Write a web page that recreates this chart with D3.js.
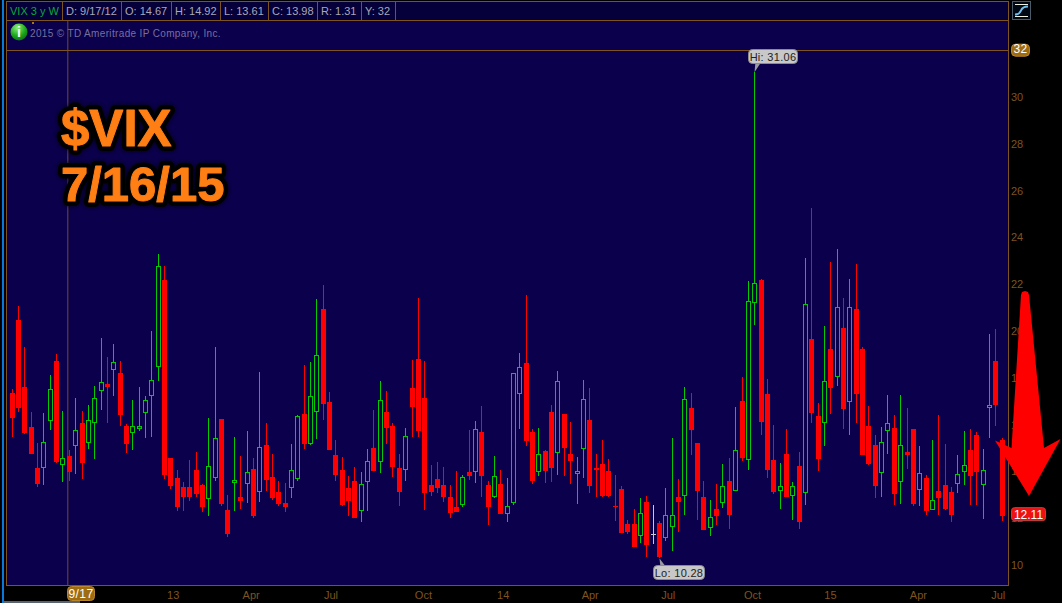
<!DOCTYPE html>
<html>
<head>
  <meta charset="utf-8"><script src="https://d3js.org/d3.v7.min.js"></script>
  <style>
    html, body { margin: 0; padding: 0; background: black; overflow: hidden; }
    svg { display: block; }
    text { font-family: "Liberation Sans", Arial, sans-serif; }
  </style>
</head>

<body>
  <svg id="mychart" width="1062" height="603" />
<script>
  // VIX weekly candles, first week 7/16/12, last week 7/13/15
  const firstWeek = "2012-07-16"
  const lastWeek = "2015-07-13"

  const opens = [
    17.35,20.47,17.61,15.90,14.15,14.16,16.17,18.72,14.29,14.67,
    15.10,16.07,15.23,16.08,17.45,17.73,18.35,18.20,15.94,15.66,
    15.83,16.51,17.24,18.48,22.18,14.57,13.72,13.33,13.33,14.06,
    13.42,12.84,13.73,16.24,12.35,13.52,12.91,13.48,14.10,13.13,
    15.13,13.76,13.12,12.65,13.30,13.69,16.45,15.19,16.55,20.94,
    16.97,14.70,14.06,13.29,13.59,12.32,13.56,15.00,14.42,16.54,
    15.94,14.15,14.07,17.56,18.80,17.14,13.42,13.68,13.42,12.91,
    12.48,12.58,13.97,13.99,15.68,13.42,12.92,13.46,12.19,12.66,
    17.32,18.62,15.68,13.99,14.87,16.54,14.80,16.45,14.74,13.90,
    14.97,16.20,14.15,14.32,14.02,12.52,13.25,11.75,11.75,11.25,
    12.69,11.31,11.80,11.17,11.64,12.91,12.96,16.71,15.21,12.91,
    11.60,12.39,12.66,13.59,13.18,17.01,14.50,21.18,22.18,17.31,
    14.49,13.16,14.74,12.96,14.23,13.09,19.64,16.37,16.08,19.23,
    18.05,20.13,16.98,20.94,19.23,15.94,15.13,13.95,15.74,15.85,
    13.56,14.83,15.81,13.22,13.72,12.36,13.16,13.42,13.12,13.48,
    13.96,14.91,15.56,13.43,16.72,18.72,15.34]

  const highs = [
    17.52,21.07,19.30,16.54,15.21,16.50,18.12,19.00,16.58,14.92,
    17.14,16.58,16.84,17.65,19.70,18.89,19.44,18.72,16.03,17.05,
    17.61,17.22,20.00,23.29,22.78,14.57,14.06,13.55,14.49,14.83,
    13.46,16.28,19.32,16.24,12.99,15.47,14.66,15.73,14.57,18.25,
    16.07,14.74,13.59,13.50,15.17,16.41,18.55,18.68,21.37,21.97,
    17.39,15.34,14.62,13.80,14.19,13.97,14.96,16.62,17.86,17.44,
    16.07,14.74,15.86,18.76,21.41,18.72,14.27,14.40,14.19,13.42,
    14.02,13.85,15.77,16.15,16.80,13.59,14.66,14.06,13.72,18.20,
    19.06,21.54,15.80,15.86,14.90,16.84,18.29,16.47,16.11,14.62,
    17.91,17.56,14.74,15.34,14.53,13.85,13.38,11.92,12.39,12.86,
    12.95,12.56,11.88,13.29,15.43,13.68,17.61,17.35,15.23,13.59,
    12.78,13.46,14.32,14.57,16.75,18.03,22.14,31.06,22.21,17.95,
    15.98,14.36,15.81,13.55,14.83,23.11,25.26,16.92,20.21,22.95,
    23.50,21.41,22.22,22.86,19.32,16.79,15.56,15.90,17.26,16.41,
    17.26,16.71,15.83,15.09,13.85,15.34,16.41,15.17,13.33,14.70,
    15.73,15.81,15.68,14.96,19.87,20.09,15.43]

  const lows = [
    15.48,16.55,15.60,14.74,13.35,13.42,15.77,14.36,13.56,13.61,
    13.89,13.68,14.96,14.53,16.62,16.08,17.22,15.95,14.79,14.91,
    15.73,15.43,15.47,17.86,13.68,13.25,12.31,12.31,12.74,12.91,
    12.27,12.09,13.59,12.52,11.20,12.31,12.39,12.65,12.01,12.69,
    13.16,12.78,12.52,12.27,12.86,13.59,14.96,15.13,15.38,16.20,
    14.90,13.59,12.54,12.09,11.99,11.84,12.31,14.00,13.93,15.17,
    13.76,12.52,13.59,15.47,15.47,12.35,12.95,13.08,12.69,12.01,
    12.25,12.48,13.63,13.50,12.91,11.71,12.86,12.16,11.84,12.56,
    15.81,15.09,13.46,13.80,13.50,13.55,13.85,13.80,13.46,12.61,
    13.72,13.08,12.91,12.91,12.91,11.88,11.35,11.33,10.75,10.94,
    10.34,10.90,10.28,11.03,10.60,11.41,12.14,14.70,11.92,11.48,
    11.24,11.71,12.44,11.54,13.16,14.44,14.06,20.26,15.56,13.72,
    13.03,12.39,12.89,11.92,11.54,12.56,16.07,14.02,15.09,16.45,
    17.65,15.81,15.56,16.07,14.68,14.27,12.86,12.91,14.74,12.56,
    12.61,14.10,12.52,12.52,12.14,12.35,12.14,12.35,11.84,13.08,
    13.42,12.56,12.56,11.97,15.43,15.94,11.88]

  const closes = [
    16.30,16.72,15.66,14.76,13.48,15.24,17.51,14.42,14.56,13.98,
    15.76,14.36,16.18,17.12,17.83,17.61,18.66,16.41,15.17,15.93,
    15.93,17.04,17.89,22.76,13.85,13.38,12.48,12.91,12.91,13.03,
    12.48,14.22,15.41,12.61,11.34,13.62,12.74,13.96,12.09,15.03,
    13.63,12.86,12.61,12.48,14.05,16.35,15.17,17.21,18.96,16.88,
    14.92,13.85,12.56,12.74,12.01,13.45,14.43,14.02,17.04,15.86,
    14.19,13.12,15.50,16.75,15.73,13.08,13.12,13.29,12.91,12.22,
    12.27,13.75,13.80,15.80,13.80,12.48,13.79,12.18,12.51,18.19,
    18.45,15.30,13.59,14.73,14.02,14.15,17.85,15.00,14.44,14.00,
    17.08,13.38,14.07,12.95,12.95,12.48,11.37,11.41,10.77,12.21,
    10.86,11.31,10.34,12.12,12.12,12.69,17.08,15.77,13.16,11.50,
    12.04,12.09,13.36,12.14,14.90,14.57,21.27,22.04,16.12,14.06,
    13.12,13.36,12.91,13.36,11.84,21.14,16.50,14.53,17.85,17.56,
    21.01,16.67,21.01,17.31,14.70,14.32,13.38,15.24,16.05,13.03,
    15.11,14.70,12.61,13.92,12.31,12.76,12.86,12.39,12.14,13.87,
    14.26,13.80,13.97,14.05,16.84,16.84,12.11]

  const tickDates = ["2013-01-09","2013-04-05","2013-07-02","2013-10-12","2014-01-08","2014-04-14",
                     "2014-07-09","2014-10-10","2015-01-04","2015-04-11","2015-07-08"]
  const tickLabels = ["13","Apr","Jul","Oct","14","Apr","Jul","Oct","15","Apr","Jul"]
  const priceTicks = [10,12,14,16,18,20,22,24,26,28,30]

  const headerCells = ["VIX 3 y W","D: 9/17/12","O: 14.67","H: 14.92","L: 13.61","C: 13.98","R: 1.31","Y: 32"]
  const headerEdges = [6,62,121,171,220,268,317,361,395]

  const crossDate = "2012-09-17"
  const crossLabel = "9/17"
  const crossPrice = 32

  const weeks = d3.utcMonday.range(new Date(firstWeek), d3.utcDay.offset(new Date(lastWeek), 1))
  const data = weeks.map((date, i) => ({date, open: opens[i], high: highs[i], low: lows[i], close: closes[i]}))

  const width = 1062, height = 603
  const plot = {left: 6, right: 1008, top: 20, bottom: 585}

  const x = d3.scaleUtc().domain([new Date(firstWeek), new Date(lastWeek)]).range([12.2, 1002.2])
  const y = d3.scaleLinear().domain([10, 30]).range([565, 97])

  const brown = "#7d5320", red = "#ff0000", green = "#00cc00", grey = "#c8c8d0"
  const candleColor = d => d.close > d.open ? green : d.close < d.open ? red : grey
  const px = d => Math.floor(x(d.date))

  const svg = d3.select("#mychart")

  // frame
  svg.append("rect").attr("width", width).attr("height", height).attr("fill", "black")
  svg.append("rect").attr("x", 2).attr("y", 0).attr("width", 2).attr("height", height).attr("fill", "#0a78d8")
  svg.append("rect").attr("x", 4).attr("y", 601).attr("width", 76).attr("height", 2).attr("fill", "#5a6470")
  svg.append("rect").attr("x", plot.left).attr("y", plot.top)
    .attr("width", plot.right - plot.left).attr("height", plot.bottom - plot.top)
    .attr("fill", "#0b004c")
  svg.append("rect").attr("x", plot.left).attr("y", 1)
    .attr("width", plot.right - plot.left).attr("height", plot.top - 1)
    .attr("fill", "#05003a")

  // crosshair
  svg.append("line").attr("x1", x(new Date(crossDate)) - 1.5).attr("x2", x(new Date(crossDate)) - 1.5)
    .attr("y1", plot.top).attr("y2", plot.bottom).attr("stroke", "#6f4c30")
  svg.append("line").attr("x1", plot.left).attr("x2", plot.right)
    .attr("y1", Math.floor(y(crossPrice)) + .5).attr("y2", Math.floor(y(crossPrice)) + .5).attr("stroke", brown)

  // header
  svg.append("g").attr("stroke", brown).selectAll("line").data(headerEdges).join("line")
    .attr("x1", d => d + .5).attr("x2", d => d + .5).attr("y1", 1).attr("y2", 20)
  svg.append("path").attr("d", `M6.5,1.5H${plot.right + .5}M6.5,20.5H${plot.right + .5}M6.5,20V${plot.bottom}M${plot.right + .5},1V${plot.bottom}M6,${plot.bottom + .5}H${plot.right + 1}`)
    .attr("stroke", brown).attr("fill", "none")
  svg.append("g").selectAll("text").data(headerCells).join("text")
    .attr("x", (d, i) => headerEdges[i] + 4).attr("y", 15)
    .attr("font-size", 11)
    .attr("fill", (d, i) => i == 0 ? "#0aa83a" : "#a8a8b8")
    .text(d => d)

  // info icon and copyright
  const grad = svg.append("defs").append("radialGradient").attr("id", "infoGrad").attr("cx", "40%").attr("cy", "25%").attr("r", "80%")
  grad.append("stop").attr("offset", "0%").attr("stop-color", "#8cf07a")
  grad.append("stop").attr("offset", "60%").attr("stop-color", "#1ca81c")
  grad.append("stop").attr("offset", "100%").attr("stop-color", "#0b6d18")
  svg.append("circle").attr("cx", 19).attr("cy", 32).attr("r", 8.5).attr("fill", "url(#infoGrad)")
  svg.append("text").attr("x", 19).attr("y", 37).attr("text-anchor", "middle")
    .attr("font-size", 14).attr("font-weight", "bold").attr("fill", "white").text("i")
  svg.append("rect").attr("x", 32).attr("y", 22).attr("width", 2).attr("height", 2).attr("fill", "#a8761a")
  svg.append("text").attr("x", 30).attr("y", 37).attr("font-size", 10).attr("letter-spacing", .35)
    .attr("fill", "#74709e").text("2015 © TD Ameritrade IP Company, Inc.")

  // axes
  const xAxis = d3.axisBottom(x).tickValues(tickDates.map(d => new Date(d)))
    .tickFormat((d, i) => tickLabels[i]).tickSize(0).tickPadding(6)
  const yAxis = d3.axisRight(y).tickValues(priceTicks).tickSize(0).tickPadding(3)

  svg.append("g").attr("transform", `translate(0,${plot.bottom})`).call(xAxis)
    .call(g => g.select(".domain").remove())
    .call(g => g.selectAll("text").attr("fill", brown).attr("font-size", 11).attr("font-family", null))
  svg.append("g").attr("transform", `translate(${plot.right},0)`).call(yAxis)
    .call(g => g.select(".domain").remove())
    .call(g => g.selectAll("text").attr("fill", brown).attr("font-size", 11).attr("font-family", null))

  // candles
  const candles = svg.append("g").selectAll("g").data(data).join("g")
  candles.append("line")
    .attr("x1", d => px(d) + .5).attr("x2", d => px(d) + .5)
    .attr("y1", d => Math.round(y(d.high))).attr("y2", d => Math.round(y(d.low)))
    .attr("stroke", candleColor)
  // up weeks are hollow, down weeks are filled
  candles.filter(d => d.close > d.open).append("rect")
    .attr("x", d => px(d) - 1.5).attr("width", 4)
    .attr("y", d => Math.round(y(d.close)) + .5)
    .attr("height", d => Math.max(1, Math.round(y(d.open)) - Math.round(y(d.close)) - 1))
    .attr("fill", "#0b004c").attr("stroke", green)
  candles.filter(d => d.close < d.open).append("rect")
    .attr("x", d => px(d) - 2).attr("width", 5)
    .attr("y", d => Math.round(y(d.open)))
    .attr("height", d => Math.max(1, Math.round(y(d.close)) - Math.round(y(d.open))))
    .attr("fill", red)
  candles.filter(d => d.close == d.open).append("line")
    .attr("x1", d => px(d) - 2).attr("x2", d => px(d) + 3)
    .attr("y1", d => Math.round(y(d.open)) + .5).attr("y2", d => Math.round(y(d.open)) + .5)
    .attr("stroke", grey)

  // high and low callouts
  const hi = data[d3.maxIndex(data, d => d.high)]
  const lo = data[d3.minIndex(data, d => d.low)]
  function callout(text, d, value, bx, by, bw) {
    const tx = px(d) + .5, ty = y(value)
    const above = by < ty
    svg.append("path").attr("fill", "#9a9aa2")
      .attr("d", `M${tx},${ty}L${tx + 1},${above ? by + 12 : by + 2}L${tx + 7},${above ? by + 12 : by + 2}Z`)
    svg.append("rect").attr("x", bx).attr("y", by).attr("width", bw).attr("height", 14).attr("rx", 4)
      .attr("fill", "#c8c8c8").attr("stroke", "#8a8a90")
    svg.append("text").attr("x", bx + bw / 2).attr("y", by + 11).attr("text-anchor", "middle")
      .attr("font-size", 11).attr("fill", "#222").attr("letter-spacing", .3).text(text)
  }
  callout("Hi: " + hi.high.toFixed(2), hi, hi.high, 748.5, 49.5, 49)
  callout("Lo: " + lo.low.toFixed(2), lo, lo.low, 653.5, 565.5, 51)

  // badges on the axes
  function badge(text, bx, by, bw, bh, fill, stroke) {
    svg.append("rect").attr("x", bx).attr("y", by).attr("width", bw).attr("height", bh).attr("rx", 4)
      .attr("fill", fill).attr("stroke", stroke)
    svg.append("text").attr("x", bx + bw / 2).attr("y", by + bh - 3).attr("text-anchor", "middle")
      .attr("font-size", 12).attr("fill", "white").attr("letter-spacing", .4).text(text)
  }
  badge(crossLabel, 67.5, 586.5, 27, 14, "#a06c12", "#b8862e")
  badge(crossPrice, 1011.5, y(crossPrice) - 6, 18, 12, "#a06c12", "#b8862e")

  // scale button
  svg.append("rect").attr("x", 1012.5).attr("y", 1.5).attr("width", 18).attr("height", 18)
    .attr("fill", "#000814").attr("stroke", "#4a5a68")
  svg.append("path").attr("d", "M1015,4.5H1028M1015,16.5H1028").attr("stroke", "#f0f0e0").attr("fill", "none")
  svg.append("path").attr("d", "M1015,14.5C1019,14.5 1020,13 1021,10.5C1022,8 1024,6.5 1028,6.5")
    .attr("stroke", "#6cc0f0").attr("stroke-width", 2).attr("fill", "none")

  // title text, black outline first and then a slightly fattened orange on top
  const titleLines = [["$VIX", 61, 146, 51], ["7/16/15", 61, 201, 49]]
  const outline = svg.append("g").attr("font-weight", "bold").attr("fill", "black")
    .attr("stroke", "black").attr("stroke-width", 10).attr("stroke-linejoin", "round")
    .style("filter", "drop-shadow(0 0 2px rgba(0,0,0,.8))")
  const face = svg.append("g").attr("font-weight", "bold").attr("fill", "#ff7f14")
    .attr("stroke", "#ff7f14").attr("stroke-width", 1).attr("stroke-linejoin", "round")
  for (const g of [outline, face]) {
    g.selectAll("text").data(titleLines).join("text")
      .attr("x", d => d[1]).attr("y", d => d[2]).attr("font-size", d => d[3]).text(d => d[0])
  }

  // hand drawn red arrow over the last candles
  const arrow = [[1021,295],[1022,292],[1025,291],[1028,292],[1029,295],[1044,448],[1060.5,439],[1029,496],[995,440.5],[1011.5,448]]
  svg.append("path").attr("d", d3.line()(arrow) + "Z").attr("fill", red)

  // last close badge sits over the arrow layer
  const last = data[data.length - 1]
  svg.append("rect").attr("x", 1011.5).attr("y", y(last.close) - 8).attr("width", 34).attr("height", 13).attr("rx", 3)
    .attr("fill", "#ee1111").attr("stroke", "#c04040")
  svg.append("text").attr("x", 1028.5).attr("y", y(last.close) + 3).attr("text-anchor", "middle")
    .attr("font-size", 12).attr("fill", "white").text(last.close.toFixed(2))
</script>
</body>
</html>
